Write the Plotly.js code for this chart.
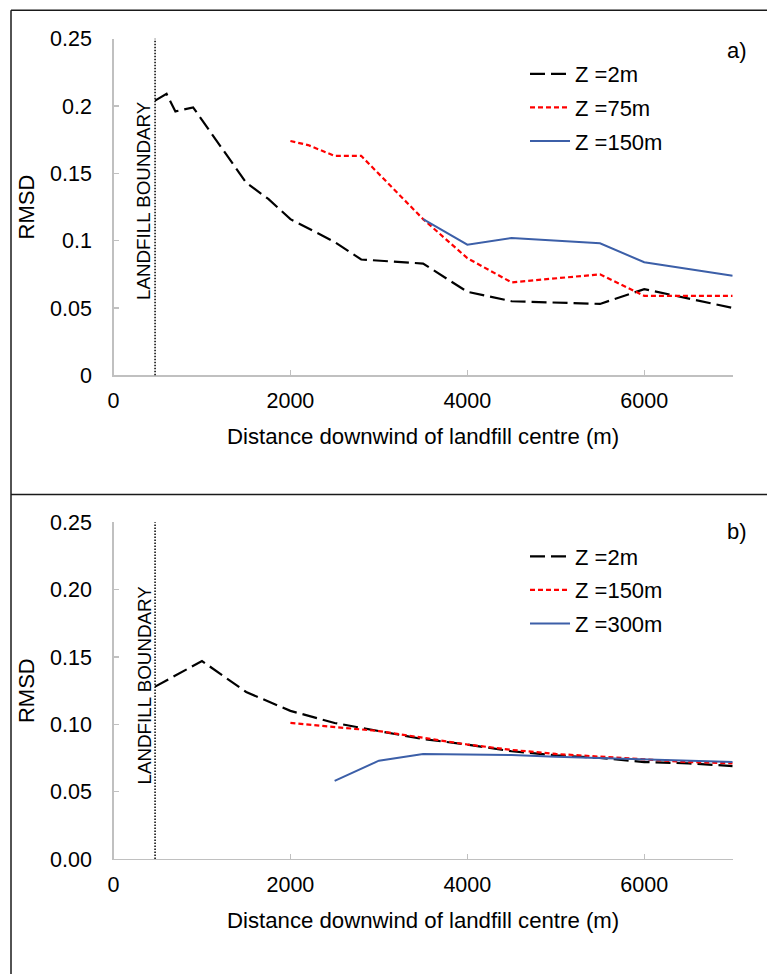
<!DOCTYPE html>
<html>
<head>
<meta charset="utf-8">
<script src="https://cdn.plot.ly/plotly-3.0.1.min.js"></script>
<style>html,body{margin:0;padding:0;background:#fff;}#chart{width:767px;height:974px;}</style>
</head>
<body>
<div id="chart"></div>
<script>
// ---- Panel a) data ----
const a_z2_x   = [470, 600, 700, 900, 1500, 1750, 2000, 2500, 2800, 3500, 4000, 4500, 5500, 6000, 7000];
const a_z2_y   = [0.204, 0.209, 0.196, 0.199, 0.143, 0.131, 0.116, 0.099, 0.086, 0.083, 0.062, 0.055, 0.053, 0.064, 0.050];
const a_z75_x  = [2000, 2200, 2500, 2800, 3500, 4000, 4500, 5500, 6000, 7000];
const a_z75_y  = [0.174, 0.171, 0.163, 0.163, 0.116, 0.087, 0.069, 0.075, 0.059, 0.059];
const a_z150_x = [3500, 4000, 4500, 5500, 6000, 7000];
const a_z150_y = [0.116, 0.097, 0.102, 0.098, 0.084, 0.074];
const a_names  = ["Z =2m", "Z =75m", "Z =150m"];

// ---- Panel b) data ----
const b_z2_x   = [470, 1000, 1500, 2000, 2500, 3000, 3500, 4000, 4500, 5000, 5500, 6000, 6500, 7000];
const b_z2_y   = [0.128, 0.147, 0.124, 0.110, 0.101, 0.095, 0.089, 0.085, 0.080, 0.077, 0.075, 0.072, 0.071, 0.069];
const b_z150_x = [2000, 2500, 3000, 3500, 4000, 4500, 5000, 5500, 6000, 6500, 7000];
const b_z150_y = [0.101, 0.098, 0.095, 0.090, 0.085, 0.081, 0.078, 0.076, 0.074, 0.072, 0.071];
const b_z300_x = [2500, 3000, 3500, 4000, 4500, 5000, 5500, 6000, 6500, 7000];
const b_z300_y = [0.058, 0.073, 0.078, 0.0775, 0.0772, 0.076, 0.075, 0.0735, 0.0725, 0.072];
const b_names  = ["Z =2m", "Z =150m", "Z =300m"];

const boundaryX = 470;
const boundaryLabel = "LANDFILL BOUNDARY";
const xTitle = "Distance downwind of landfill centre (m)";
const yTitle = "RMSD";
const panelLabels = ["a)", "b)"];

const W = 767, H = 974;
const px = v => v / W;
const py = v => 1 - v / H;

const FONT = "Liberation Sans, Arial, sans-serif";
const blackLine = {color: "#000000", width: 2.2, dash: "15px,6px"};
const redLine   = {color: "#ff0000", width: 2.2, dash: "5px,3px"};
const blueLine  = {color: "#3c5fa8", width: 2};

const traces = [
  {x: a_z2_x,   y: a_z2_y,   name: a_names[0], mode: "lines", line: blackLine, xaxis: "x",  yaxis: "y",  legend: "legend",  legendgroup: "a1"},
  {x: a_z75_x,  y: a_z75_y,  name: a_names[1], mode: "lines", line: redLine,   xaxis: "x",  yaxis: "y",  legend: "legend",  legendgroup: "a2"},
  {x: a_z150_x, y: a_z150_y, name: a_names[2], mode: "lines", line: blueLine,  xaxis: "x",  yaxis: "y",  legend: "legend",  legendgroup: "a3"},
  {x: b_z2_x,   y: b_z2_y,   name: b_names[0], mode: "lines", line: blackLine, xaxis: "x2", yaxis: "y2", legend: "legend2", legendgroup: "b1"},
  {x: b_z150_x, y: b_z150_y, name: b_names[1], mode: "lines", line: redLine,   xaxis: "x2", yaxis: "y2", legend: "legend2", legendgroup: "b2"},
  {x: b_z300_x, y: b_z300_y, name: b_names[2], mode: "lines", line: blueLine,  xaxis: "x2", yaxis: "y2", legend: "legend2", legendgroup: "b3"}
];

const axisCommon = {
  showline: true, linecolor: "#c0c0c0", linewidth: 1.3,
  ticks: "inside", ticklen: 5, tickwidth: 1.3, tickcolor: "#c0c0c0",
  showgrid: false, zeroline: false, mirror: false,
  tickfont: {family: FONT, size: 21.5, color: "#000"},
  automargin: false
};
const xCommon = Object.assign({}, axisCommon, {
  range: [0, 7000], dtick: 2000, tick0: 0, domain: [px(113.5), px(732.7)],
  ticklabelstandoff: 6,
  title: {text: xTitle, font: {family: FONT, size: 22.2, color: "#000"}, standoff: 16}
});
const yCommon = Object.assign({}, axisCommon, {
  range: [0, 0.25], dtick: 0.05, tick0: 0,
  ticklabelstandoff: 16,
  title: {text: yTitle, font: {family: FONT, size: 22, color: "#000"}, standoff: 9}
});

const legendCommon = {
  xanchor: "left", yanchor: "top", bgcolor: "rgba(0,0,0,0)",
  font: {family: FONT, size: 22, color: "#000"},
  traceorder: "grouped", tracegroupgap: 2, itemwidth: 40
};

const layout = {
  width: W, height: H,
  margin: {l: 0, r: 0, t: 0, b: 0},
  paper_bgcolor: "#fff", plot_bgcolor: "#fff",
  showlegend: true,
  xaxis:  Object.assign({}, xCommon, {anchor: "y"}),
  yaxis:  Object.assign({}, yCommon, {anchor: "x", domain: [py(375.3), py(38.7)]}),
  xaxis2: Object.assign({}, xCommon, {anchor: "y2"}),
  yaxis2: Object.assign({}, yCommon, {anchor: "x2", domain: [py(859), py(522.3)], tickformat: ".2f"}),
  legend:  Object.assign({}, legendCommon, {x: px(525), y: py(53)}),
  legend2: Object.assign({}, legendCommon, {x: px(525), y: py(535.5)}),
  shapes: [
    // panel frames
    {type: "line", xref: "paper", yref: "paper", x0: px(11), x1: 1.01, y0: py(10.3), y1: py(10.3), line: {color: "#1a1a1a", width: 1.5}},
    {type: "line", xref: "paper", yref: "paper", x0: px(11), x1: px(11), y0: py(10.3), y1: -0.01, line: {color: "#1a1a1a", width: 1.5}},
    {type: "line", xref: "paper", yref: "paper", x0: px(11), x1: 1.01, y0: py(494.5), y1: py(494.5), line: {color: "#1a1a1a", width: 1.5}},
    // landfill boundary
    {type: "line", xref: "x",  yref: "y domain",  x0: boundaryX, x1: boundaryX, y0: 0, y1: 1, line: {color: "#000", width: 1.5, dash: "1.5px,1.5px"}},
    {type: "line", xref: "x2", yref: "y2 domain", x0: boundaryX, x1: boundaryX, y0: 0, y1: 1, line: {color: "#000", width: 1.5, dash: "1.5px,1.5px"}}
  ],
  annotations: [
    {text: boundaryLabel, xref: "paper", yref: "paper", x: px(143.5), y: py(200.5), textangle: -90, showarrow: false,
     xanchor: "center", yanchor: "middle", font: {family: FONT, size: 18.8, color: "#000"}},
    {text: boundaryLabel, xref: "paper", yref: "paper", x: px(143.5), y: py(685), textangle: -90, showarrow: false,
     xanchor: "center", yanchor: "middle", font: {family: FONT, size: 18.8, color: "#000"}},
    {text: panelLabels[0], xref: "paper", yref: "paper", x: px(736.5), y: py(50), showarrow: false,
     xanchor: "center", yanchor: "middle", font: {family: FONT, size: 22, color: "#000"}},
    {text: panelLabels[1], xref: "paper", yref: "paper", x: px(736.5), y: py(531.7), showarrow: false,
     xanchor: "center", yanchor: "middle", font: {family: FONT, size: 22, color: "#000"}}
  ]
};

Plotly.newPlot("chart", traces, layout, {displayModeBar: false, staticPlot: true});
</script>
</body>
</html>
